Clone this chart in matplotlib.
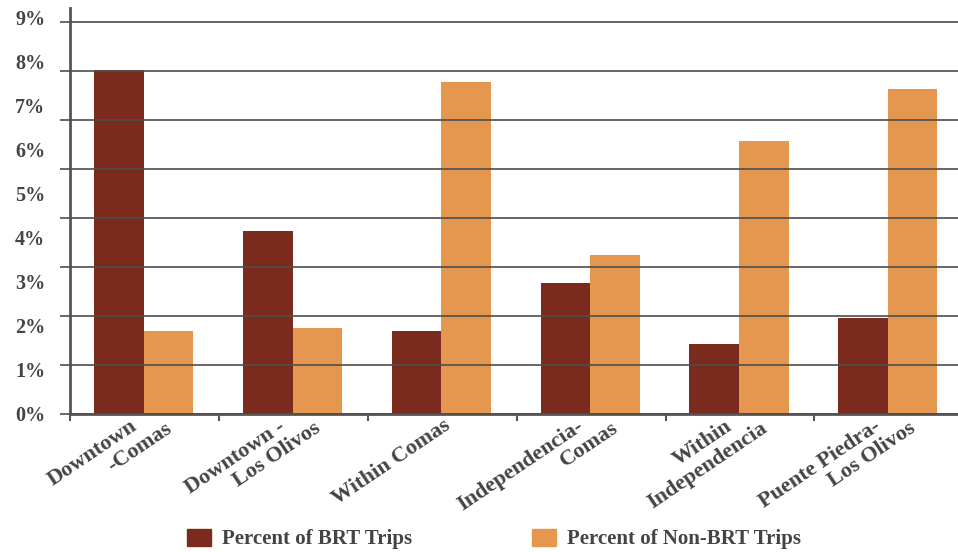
import matplotlib
matplotlib.use("Agg")
import matplotlib.pyplot as plt
import numpy as np
from matplotlib.patches import Patch
from matplotlib.transforms import ScaledTranslation

# Trip-pair categories (each entry holds the wrapped label lines)
categories = [
    ["Downtown", "-Comas"],
    ["Downtown -", "Los Olivos"],
    ["Within Comas"],
    ["Independencia-", "Comas"],
    ["Within", "Independencia"],
    ["Puente Piedra-", "Los Olivos"],
]
brt_share = [7.80, 4.15, 1.88, 2.97, 1.58, 2.18]       # percent of BRT trips
non_brt_share = [1.88, 1.95, 7.54, 3.61, 6.20, 7.38]   # percent of non-BRT trips
y_ticks = list(range(10))
y_tick_labels = [f"{v}%" for v in y_ticks]
grid_steps = list(range(9))
series_names = ["Percent of BRT Trips", "Percent of Non-BRT Trips"]

DARK_RED = "#7B2A1E"
ORANGE = "#E5974F"
TEXT = "#444444"
LINE = "#4d4d4d"
FONT = "Liberation Serif"

W, H, DPI = 958, 552, 100
fig = plt.figure(figsize=(W / DPI, H / DPI), dpi=DPI)

left_px, base_px, top_px = 70.3, 413.7, 8.3
cat_px = 148.8
ax = fig.add_axes([left_px / W, (H - base_px) / H,
                   6 * cat_px / W, (base_px - top_px) / H])
ymax = 9.21
ax.set_xlim(-0.5, 5.5)
ax.set_ylim(0, ymax)

x = np.arange(len(categories))
bw = 1 / 3
ax.bar(x - bw / 2 - 0.006, brt_share, width=bw, color=DARK_RED, zorder=1)
ax.bar(x + bw / 2 - 0.006, non_brt_share, width=bw, color=ORANGE, zorder=1)

# percentage labels on the value axis
ax.set_yticks(y_ticks)
ax.set_yticklabels(y_tick_labels, fontfamily=FONT, fontweight="bold",
                   fontsize=14.5, color=TEXT)
ax.tick_params(axis="y", length=0, pad=18)

# category boundary ticks
ax.set_xticks(np.arange(-0.5, 6.0, 1.0))
ax.set_xticklabels([])
ax.tick_params(axis="x", length=5, width=1.5, color="#555555", direction="out")

for s in ("top", "right"):
    ax.spines[s].set_visible(False)
for s in ("left", "bottom"):
    ax.spines[s].set_color("#555555")
    ax.spines[s].set_linewidth(2)
    ax.spines[s].set_zorder(4)

# horizontal rules, drawn over the bars
gx = ax.twinx()
gx.set_ylim(0, ymax * 44 / 49)
gx.set_yticks(grid_steps)
gx.yaxis.set_ticks_position("left")
gx.set_yticklabels([])
gx.tick_params(axis="y", length=7.5, width=1.2, color=LINE, direction="out")
gx.grid(axis="y", color=LINE, linewidth=1.2)
for s in gx.spines.values():
    s.set_visible(False)

# rotated, wrapped category labels
xform = ax.get_xaxis_transform()
for i, lines in enumerate(categories):
    if len(lines) == 1:
        offsets = [(9, 14)]
    else:
        offsets = [(-7, 15), (28, 17)]
    for line, (dx, dy) in zip(lines, offsets):
        t = xform + ScaledTranslation(dx / DPI, -dy / DPI, fig.dpi_scale_trans)
        ax.text(i, 0, line, transform=t, rotation=34, rotation_mode="anchor",
                ha="right", va="baseline", fontfamily=FONT, fontweight="bold",
                fontsize=16, color=TEXT, clip_on=False)

handles = [Patch(color=DARK_RED), Patch(color=ORANGE)]
leg = fig.legend(handles, series_names, loc="center",
                 bbox_to_anchor=(494 / W, 13 / H), ncol=2, frameon=False,
                 handlelength=1.15, handleheight=0.91, handletextpad=0.53,
                 columnspacing=5.77, borderaxespad=0, borderpad=0,
                 prop={"family": FONT, "weight": "bold", "size": 15})
for txt in leg.get_texts():
    txt.set_color(TEXT)

fig.savefig("out.png", dpi=DPI)
